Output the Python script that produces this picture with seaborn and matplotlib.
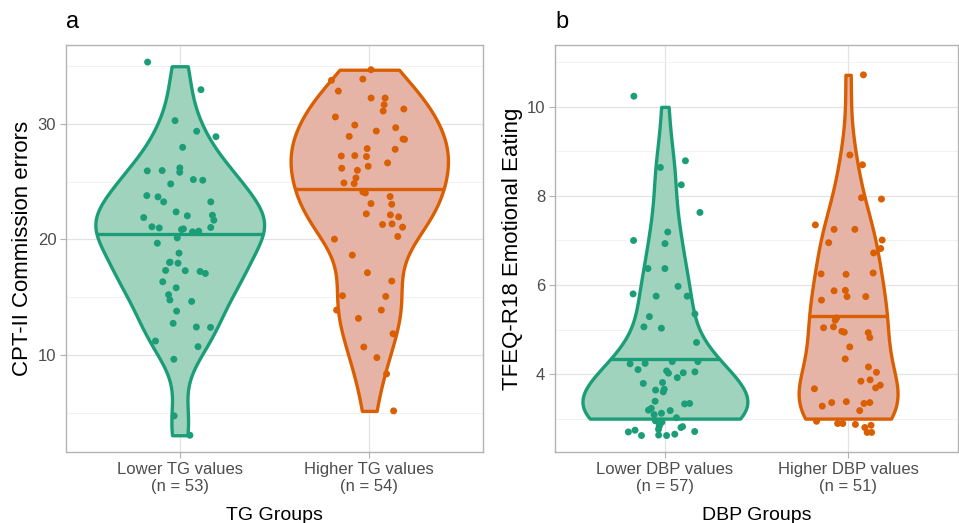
import numpy as np
import pandas as pd
import matplotlib
matplotlib.use("Agg")
import matplotlib.pyplot as plt
from matplotlib.ticker import FixedLocator
import seaborn as sns

# ---------------- data ----------------
tg_groups = ["Lower TG values\n(n = 53)", "Higher TG values\n(n = 54)"]
dbp_groups = ["Lower DBP values\n(n = 57)", "Higher DBP values\n(n = 51)"]

tg_lower = [35.36, 32.97, 30.29, 29.37, 28.9, 27.98, 26.2, 25.94, 25.97, 25.82,
            25.19, 25.13, 24.81, 23.8, 23.26, 23.26, 23.69, 22.39, 22.1, 21.9,
            22.05, 21.67, 21.0, 20.92, 21.04, 21.1, 20.86, 20.72, 20.66, 20.14,
            19.68, 18.82, 18.04, 17.95, 18.01, 17.06, 17.23, 17.32, 17.3, 16.34,
            15.82, 15.22, 14.64, 14.76, 13.8, 12.42, 12.74, 12.39, 11.21, 10.72,
            9.63, 4.73, 3.05]
tg_higher = [34.7, 33.89, 33.78, 32.85, 32.25, 32.25, 31.67, 31.3, 31.12, 30.61,
             29.91, 29.39, 28.93, 28.67, 28.7, 29.68, 27.87, 27.81, 27.23, 27.26,
             27.18, 26.63, 26.34, 26.17, 25.99, 25.33, 24.84, 24.9, 24.12, 24.03,
             23.72, 23.05, 23.11, 22.22, 22.13, 21.96, 21.3, 21.35, 21.07, 20.03,
             20.26, 18.65, 17.12, 16.4, 15.07, 15.13, 13.89, 13.89, 13.17, 11.84,
             10.69, 9.77, 8.36, 5.16]
dbp_lower = [10.24, 8.79, 8.64, 8.25, 7.63, 7.19, 6.93, 7.0, 6.37, 6.37,
             5.97, 5.75, 5.75, 5.8, 5.29, 5.35, 5.06, 5.03, 4.71, 4.23,
             4.28, 4.28, 4.24, 4.02, 4.05, 4.1, 4.07, 4.03, 3.92, 3.81,
             3.79, 3.66, 3.64, 3.6, 3.39, 3.34, 3.33, 3.23, 3.18, 3.19,
             3.12, 3.09, 3.02, 2.95, 2.92, 2.8, 2.76, 2.71, 2.62, 2.82,
             2.83, 2.86, 2.65, 2.62, 2.63, 2.7, 2.74]
dbp_higher = [10.72, 8.92, 8.7, 7.93, 7.96, 7.35, 7.25, 7.25, 6.95, 7.01,
              6.82, 6.72, 6.24, 6.27, 6.25, 5.87, 5.88, 5.74, 5.74, 5.66,
              5.26, 5.21, 5.06, 5.04, 4.96, 4.94, 4.93, 4.82, 4.61, 4.34,
              4.16, 4.04, 3.84, 3.87, 3.75, 3.67, 3.69, 3.36, 3.38, 3.36,
              3.34, 3.28, 3.18, 2.94, 2.89, 2.85, 2.89, 2.87, 2.8, 2.69, 2.69]

# median lines and violin extents
tg_medians = [20.5, 24.4]
dbp_medians = [4.33, 5.3]
tg_ranges = [(3, 35), (5, 35)]
dbp_ranges = [(3, 10), (3, 11)]

edge_colors = ["#1B9E77", "#D95F02"]
fill_colors = ["#A0D3BD", "#E6B4A7"]

FONT = ["Liberation Sans", "DejaVu Sans"]
plt.rcParams["font.family"] = FONT

fig = plt.figure(figsize=(9.59, 5.23), dpi=100)
ax_a = fig.add_axes([66 / 959, 1 - 452 / 523, (483 - 66) / 959, (452 - 45) / 523])
ax_b = fig.add_axes([555 / 959, 1 - 452 / 523, (958 - 555) / 959, (452 - 45) / 523])

LW = 2.4


def crossing_extent(v, y):
    xs = []
    for i in range(len(v) - 1):
        (x0, y0), (x1, y1) = v[i], v[i + 1]
        if (y0 - y) * (y1 - y) <= 0 and y0 != y1:
            t = (y - y0) / (y1 - y0)
            xs.append(x0 + t * (x1 - x0))
    return min(xs), max(xs)


def nrd0_factor(x):
    # R's bw.nrd0 expressed as a factor of the standard deviation
    x = np.asarray(x, float)
    sd = x.std(ddof=1)
    iqr = np.subtract(*np.percentile(x, [75, 25]))
    return 0.9 * min(sd, iqr / 1.34) / sd * len(x) ** -0.2


def panel(ax, groups, series, medians, ranges, widths, ylabel, xlabel, ylim,
          yticks, yminor):
    for g, s, (lo, hi), w, ec, fc, med in zip(groups, series, ranges, widths,
                                                edge_colors, fill_colors, medians):
        vals = np.clip(np.asarray(s, float), lo, hi)
        n_before = len(ax.collections)
        sns.violinplot(x=[g] * len(vals), y=vals, order=groups, color=fc,
                       linecolor=ec, saturation=1, cut=0, inner=None,
                       density_norm="width", width=w, linewidth=LW,
                       bw_method=nrd0_factor(vals), ax=ax)
        coll = ax.collections[n_before]
        coll.set_edgecolor(ec)
        coll.set_facecolor(fc)
        coll.set_linewidth(LW)
        coll.set_zorder(1)
        x0, x1 = crossing_extent(coll.get_paths()[0].vertices, med)
        ax.plot([x0, x1], [med, med], color=ec, lw=LW, zorder=2,
                solid_capstyle="butt")

    pdf = pd.concat([pd.DataFrame({"group": g, "value": s})
                     for g, s in zip(groups, series)])
    np.random.seed(7)
    sns.stripplot(data=pdf, x="group", y="value", hue="group", order=groups,
                  hue_order=groups, palette=edge_colors, jitter=0.2, size=5.0,
                  linewidth=0, legend=False, ax=ax, zorder=3)

    ax.set_xlim(-0.6, 1.6)
    ax.set_ylim(*ylim)
    ax.yaxis.set_major_locator(FixedLocator(yticks))
    ax.yaxis.set_minor_locator(FixedLocator(yminor))
    ax.set_axisbelow(True)
    ax.grid(which="major", color="#E3E3E3", lw=0.9)
    ax.grid(which="minor", axis="y", color="#F0F0F0", lw=0.6)
    for sp in ax.spines.values():
        sp.set_color("#B3B3B3")
        sp.set_linewidth(1.0)
    ax.tick_params(axis="both", which="major", length=4, color="#B3B3B3",
                   labelcolor="#4D4D4D", labelsize=12, pad=3)
    ax.tick_params(axis="y", which="minor", length=0)
    ax.set_xlabel(xlabel, fontsize=14, color="black", labelpad=9)
    ax.set_ylabel(ylabel, fontsize=16, color="black", labelpad=3)


panel(ax_a, tg_groups, [tg_lower, tg_higher], tg_medians, tg_ranges, [0.89, 0.83],
      "CPT-II Commission errors", "TG Groups", (1.6, 36.84), [10, 20, 30],
      [5, 15, 25, 35])
panel(ax_b, dbp_groups, [dbp_lower, dbp_higher], dbp_medians, dbp_ranges, [0.9, 0.54],
      "TFEQ-R18 Emotional Eating", "DBP Groups", (2.25, 11.39), [4, 6, 8, 10],
      [3, 5, 7, 9, 11])

fig.text(66 / 959, 1 - 22 / 523, "a", fontsize=17, va="center", ha="left")
fig.text(555 / 959, 1 - 22 / 523, "b", fontsize=17, va="center", ha="left")

fig.savefig("out.png", dpi=100, facecolor="white")
